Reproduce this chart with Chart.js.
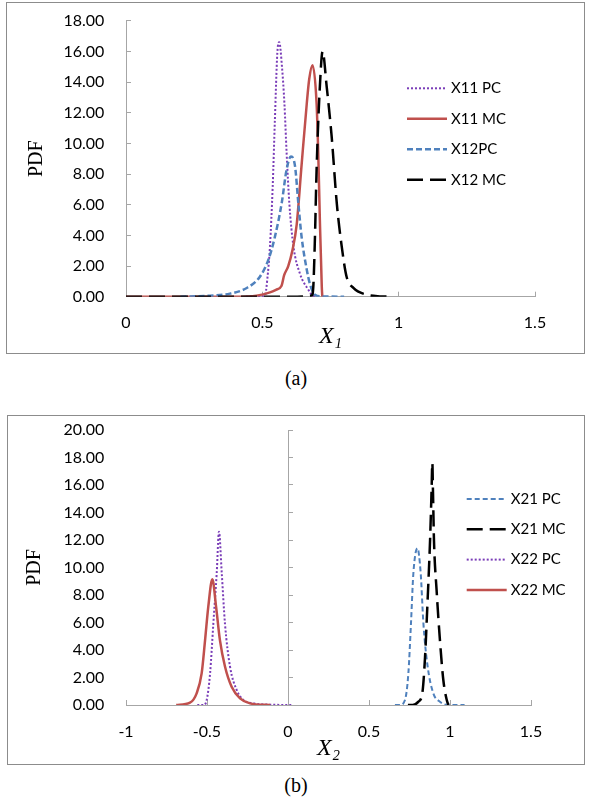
<!DOCTYPE html>
<html>
<head>
<meta charset="utf-8">
<script src="https://cdn.jsdelivr.net/npm/chart.js@4.4.1/dist/chart.umd.min.js"></script>
<style>
  body { margin: 0; background: #fff; width: 590px; height: 800px; position: relative; }
  .box { position: absolute; border: 1px solid #8c8c8c; background: #fff; }
  .box canvas { display: block; }
  .caption { position: absolute; left: 0; width: 592px; text-align: center; line-height: 22px;
             font-family: 'Liberation Serif', 'Times New Roman', serif; font-size: 20px; color: #000; }
</style>
</head>
<body>

<div class="box" style="left:6px; top:2px; width:577px; height:350px;">
  <canvas id="chartA" width="577" height="350"></canvas>
</div>
<div class="caption" style="top:367px;">(a)</div>

<div class="box" style="left:7px; top:415px; width:576px; height:348px;">
  <canvas id="chartB" width="576" height="348"></canvas>
</div>
<div class="caption" style="top:774px;">(b)</div>

<script>
// (a) X1 curves
const x11pcX = [0.44, 0.49, 0.51, 0.518, 0.528, 0.538, 0.546, 0.555, 0.562, 0.572, 0.581, 0.589, 0.599, 0.614, 0.638, 0.669, 0.686, 0.70];
const x11pcY = [0, 0.02, 0.1, 1.1, 3.3, 7.2, 11.5, 15.9, 16.6, 15.0, 12.6, 9.4, 6.1, 3.3, 1.5, 0.45, 0.05, 0];

const x11mcX = [0, 0.1, 0.2, 0.3, 0.4, 0.479, 0.528, 0.55, 0.57, 0.58, 0.595, 0.61, 0.626, 0.644, 0.663, 0.672, 0.684, 0.699, 0.705, 0.711, 0.718, 0.72];
const x11mcY = [0, 0, 0, 0, 0, 0.07, 0.28, 0.45, 0.7, 1.4, 2.0, 3.0, 4.7, 8.6, 12.6, 14.2, 15.1, 12.6, 9.4, 5.0, 0.67, 0];

const x12pcX = [0.2, 0.308, 0.381, 0.443, 0.491, 0.522, 0.546, 0.571, 0.589, 0.605, 0.62, 0.632, 0.644, 0.663, 0.675, 0.693, 0.72, 0.8];
const x12pcY = [0, 0.07, 0.2, 0.57, 1.3, 2.4, 3.9, 6.1, 8.3, 9.15, 8.5, 6.1, 3.9, 1.76, 0.8, 0.13, 0.02, 0];

const x12mcX = [0, 0.2, 0.4, 0.6, 0.681, 0.687, 0.693, 0.699, 0.711, 0.721, 0.736, 0.754, 0.773, 0.791, 0.809, 0.834, 0.883, 0.931, 0.98];
const x12mcY = [0, 0, 0, 0, 0.07, 0.67, 3.9, 8.3, 13.7, 16.0, 13.7, 10.5, 6.1, 3.3, 1.3, 0.57, 0.13, 0.02, 0];

// (b) X2 curves
const x21pcX = [0.66, 0.691, 0.722, 0.743, 0.759, 0.774, 0.799, 0.819, 0.836, 0.862, 0.897, 0.938, 0.98, 1.09];
const x21pcY = [0, 0, 0.36, 2.3, 5.9, 9.6, 11.4, 9.6, 5.9, 2.8, 0.85, 0.24, 0.02, 0];

const x21mcX = [0.74, 0.77, 0.805, 0.829, 0.846, 0.86, 0.877, 0.886, 0.891, 0.895, 0.901, 0.917, 0.938, 0.959, 0.98, 0.99];
const x21mcY = [0, 0, 0.24, 0.85, 3.5, 7.15, 12.0, 15.5, 17.6, 15.5, 12.0, 8.4, 4.7, 1.8, 0.36, 0];

const x22pcX = [-0.56, -0.523, -0.502, -0.481, -0.461, -0.44, -0.426, -0.409, -0.389, -0.358, -0.317, -0.276, -0.214, -0.1, 0.03];
const x22pcY = [0, 0, 0.36, 2.3, 5.9, 9.6, 12.6, 9.6, 5.9, 2.8, 1.1, 0.36, 0.12, 0.02, 0];

const x22mcX = [-0.69, -0.605, -0.564, -0.533, -0.512, -0.492, -0.467, -0.444, -0.42, -0.389, -0.348, -0.296, -0.235, -0.11];
const x22mcY = [0, 0.17, 0.85, 2.3, 4.7, 7.15, 9.14, 7.15, 4.7, 2.8, 1.33, 0.48, 0.12, 0];

const purple = '#7a3db8';
const red = '#c0504d';
const blue = '#4f81bd';
const black = '#000000';
const axisGray = '#a6a6a6';

function pts(xs, ys) {
    return xs.map((x, i) => ({ x: x, y: ys[i] }));
}

function serie(label, xs, ys, color, width, dash, order) {
    return {
        label: label,
        data: pts(xs, ys),
        borderColor: color,
        backgroundColor: color,
        borderWidth: width,
        borderDash: dash,
        pointRadius: 0,
        fill: false,
        cubicInterpolationMode: 'monotone',
        order: order
    };
}

// legend drawn over the plot area, like the Excel original
const insideLegend = {
    id: 'insideLegend',
    afterDatasetsDraw(chart, args, opts) {
        const ctx = chart.ctx;
        ctx.save();
        chart.data.datasets.forEach((ds, i) => {
            const y = opts.top + i * opts.gap;
            ctx.strokeStyle = ds.borderColor;
            ctx.lineWidth = ds.borderWidth;
            ctx.setLineDash(ds.borderDash || []);
            ctx.beginPath();
            ctx.moveTo(opts.left, y);
            ctx.lineTo(opts.left + opts.length, y);
            ctx.stroke();
            ctx.setLineDash([]);
            ctx.fillStyle = '#000';
            ctx.font = opts.font;
            ctx.textBaseline = 'middle';
            ctx.fillText(ds.label, opts.left + opts.length + 4, y);
        });
        ctx.restore();
    }
};

const tickFont = { family: 'Lato', size: 16 };
const pdfTitle = (padTop) => ({
    display: true, text: 'PDF', color: '#000',
    font: { family: 'Liberation Serif', size: 20 },
    padding: { top: padTop, bottom: 0 }
});
const xTitle = (txt, padBottom) => ({
    display: true, text: txt, color: '#000',
    font: { family: 'Liberation Serif', size: 24, style: 'italic' },
    padding: { top: 0, bottom: padBottom }
});
// the tick padding must not push the plot area down
const fixY = (w) => (s) => { s.width = w; s.paddingTop = 0; s.paddingBottom = 0; };

// Gráfico (a)
new Chart(document.getElementById('chartA'), {
    type: 'line',
    data: {
        datasets: [
            serie('X11 PC', x11pcX, x11pcY, purple, 2, [2, 2], 3),
            serie('X11 MC', x11mcX, x11mcY, red, 2.5, [], 2),
            serie('X12PC', x12pcX, x12pcY, blue, 2.5, [6, 3], 1),
            serie('X12 MC', x12mcX, x12mcY, black, 2.5, [16, 7], 0)
        ]
    },
    options: {
        responsive: false,
        animation: false,
        events: [],
        layout: { padding: { left: 0, right: 49, top: 17.7, bottom: 0 } },
        plugins: {
            legend: { display: false },
            tooltip: { enabled: false },
            insideLegend: { left: 400, top: 85.3, gap: 30.5, length: 40, font: '15px Lato' }
        },
        scales: {
            x: {
                type: 'linear', min: 0, max: 1.5,
                ticks: { stepSize: 0.5, padding: 22, color: '#000', font: tickFont, maxRotation: 0, callback: (v) => String(v) },
                grid: { drawOnChartArea: false, tickLength: -5, color: axisGray },
                border: { color: axisGray },
                title: xTitle('X\u2081', 2),
                afterFit: (s) => { s.height = 56.3; }
            },
            y: {
                min: 0, max: 18,
                ticks: { stepSize: 2, padding: 26.7, color: '#000', font: tickFont, callback: (v) => v.toFixed(2) },
                grid: { drawOnChartArea: false, tickLength: -5, color: axisGray },
                border: { color: axisGray },
                title: pdfTitle(18),
                afterFit: fixY(119)
            }
        }
    },
    plugins: [insideLegend]
});

// Gráfico (b)
new Chart(document.getElementById('chartB'), {
    type: 'line',
    data: {
        datasets: [
            serie('X21 PC', x21pcX, x21pcY, blue, 2, [5, 3], 3),
            serie('X21 MC', x21mcX, x21mcY, black, 2.5, [16, 7], 2),
            serie('X22 PC', x22pcX, x22pcY, purple, 2, [2, 2], 1),
            serie('X22 MC', x22mcX, x22mcY, red, 2.5, [], 0)
        ]
    },
    options: {
        responsive: false,
        animation: false,
        events: [],
        layout: { padding: { left: 0, right: 53, top: 14, bottom: 0 } },
        plugins: {
            legend: { display: false },
            tooltip: { enabled: false },
            insideLegend: { left: 458.7, top: 83, gap: 30.3, length: 40, font: '15px Lato' }
        },
        scales: {
            x: {
                type: 'linear', min: -1, max: 1.5,
                ticks: { stepSize: 0.5, padding: 22, color: '#000', font: tickFont, maxRotation: 0, callback: (v) => String(v) },
                grid: { drawOnChartArea: false, tickLength: -5, color: axisGray },
                border: { color: axisGray },
                title: xTitle('X\u2082', 1),
                afterFit: (s) => { s.height = 59; }
            },
            y: {
                min: 0, max: 20,
                ticks: { stepSize: 2, padding: 21.7, color: '#000', font: tickFont, callback: (v) => v.toFixed(2) },
                grid: { display: false, drawTicks: false },
                border: { display: false },
                title: pdfTitle(15),
                afterFit: fixY(118)
            },
            y0: {
                position: { x: 0 },
                min: 0, max: 20,
                ticks: { stepSize: 2, display: false },
                grid: { drawOnChartArea: false, tickLength: -5, color: axisGray },
                border: { color: axisGray },
                title: { display: false }
            }
        }
    },
    plugins: [insideLegend]
});
</script>
</body>
</html>
